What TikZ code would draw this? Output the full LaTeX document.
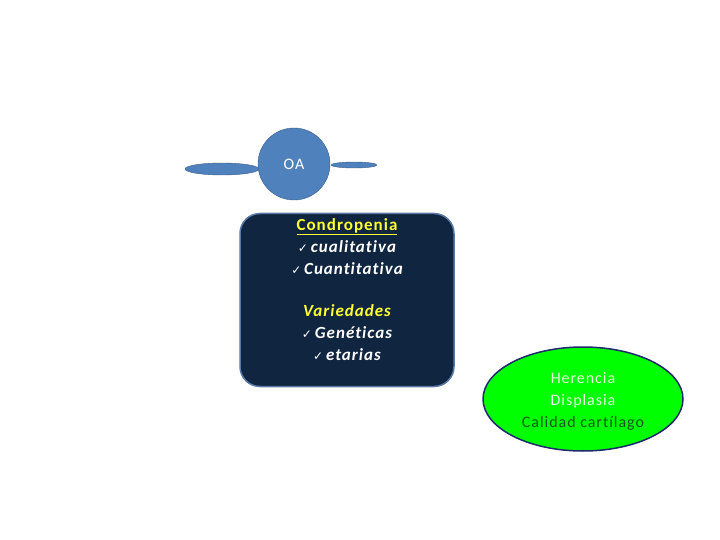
\documentclass[tikz,border=0pt]{standalone}
\usepackage{fontspec}
\setmainfont{Carlito}[LetterSpace=6,Ligatures=NoCommon]
\newfontfamily\symfont{DejaVu Sans}
\usetikzlibrary{shapes.geometric,positioning}
\definecolor{oablue}{HTML}{4F81BD}
\definecolor{oaedge}{HTML}{385D8A}
\definecolor{boxnavy}{HTML}{10253F}
\definecolor{boxedge}{HTML}{5A78A8}
\definecolor{hilite}{HTML}{FFFF33}
\definecolor{leafgreen}{HTML}{00FF00}
\definecolor{leafedge}{HTML}{1F2A6E}
\definecolor{paletext}{HTML}{E2F8D8}
\definecolor{darktext}{HTML}{145A14}
\newcommand{\chk}{{\symfont\fontsize{12}{12}\selectfont\char"2713}\,}

\begin{document}
\begin{tikzpicture}[
  x=1pt, y=-1pt,
  wing/.style={ellipse,draw=oaedge,fill=oablue,inner sep=0pt},
  every node/.style={font=\fontsize{16}{22}\selectfont}
]
\useasboundingbox (0,0) rectangle (720,540);
\node[wing, minimum width=74pt, minimum height=12pt] (lwing) at (222,169) {};
\node[wing, minimum width=46pt, minimum height=6pt] (rwing) at (354,165) {};
\node[circle,draw=oaedge,fill=oablue,minimum size=72pt,text=white] (oa) at (294,164) {OA};
\node[rectangle,rounded corners=20pt,draw=boxedge,line width=1.5pt,fill=boxnavy,
  minimum width=214pt,minimum height=173pt] (cond) at (347,300) {};
\node[align=center,text=white,font=\fontsize{17}{22}\selectfont\bfseries\itshape,
  anchor=north] (condtext) at (347,215)
  {{\upshape\color{hilite}\underline{Condropenia}}\\
   \chk cualitativa\\
   \chk Cuantitativa\\[20pt]
   {\color{hilite}Variedades}\\
   \chk Genéticas\\
   \chk etarias};
\node[ellipse,draw=leafedge,line width=1.5pt,fill=leafgreen,
  minimum width=200pt,minimum height=104pt] (leaf) at (583,399) {};
\node[align=center] (leaftext) at (583,401)
  {{\color{paletext}Herencia}\\
   {\color{paletext}Displasia}\\
   {\color{darktext}Calidad cartílago}};
\end{tikzpicture}
\end{document}
